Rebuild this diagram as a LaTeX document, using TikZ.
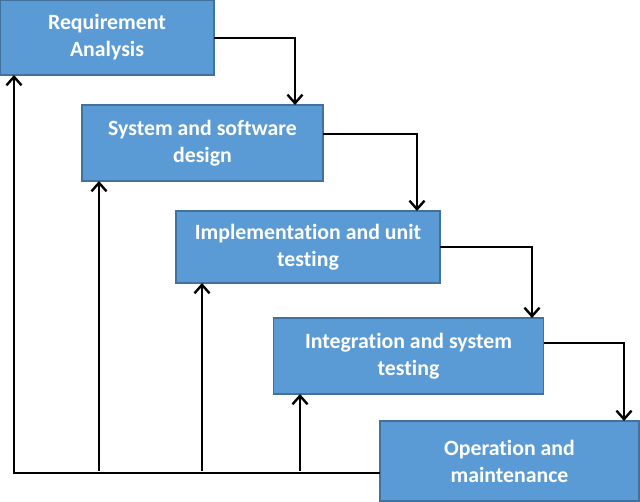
\documentclass[tikz,border=0pt]{standalone}
\usepackage{fontspec}
\setmainfont{Carlito}[Ligatures=NoCommon]
\usetikzlibrary{arrows.meta,positioning}

\definecolor{boxblue}{HTML}{5B9BD5}
\definecolor{boxedge}{HTML}{41719C}

\tikzset{
  phase/.style={draw=boxedge, line width=0.3mm, fill=boxblue, text=white,
    font=\bfseries\fontsize{12.4}{15.3}\selectfont, align=center,
    inner sep=0pt, outer sep=0pt},
  flow/.style={line width=0.48mm, -{Straight Barb[length=1.7mm,width=3mm]}}
}

\begin{document}
\begin{tikzpicture}[x=0.2mm,y=-0.2mm]
\useasboundingbox (0,0) rectangle (640,502);
\node[phase, minimum width=42.8mm, minimum height=15mm] (req) at (107,37.5) {Requirement\\Analysis};
\node[phase, minimum width=48.2mm, minimum height=15.2mm] (design) at (202.5,143) {System and software\\design};
\node[phase, minimum width=52.8mm, minimum height=14.4mm] (impl) at (308,247) {Implementation and unit\\testing};
\node[phase, minimum width=54mm, minimum height=15.2mm] (integ) at (408.5,356) {Integration and system\\testing};
\node[phase, minimum width=51.8mm, minimum height=16mm] (oper) at (509.5,461) {Operation and\\maintenance};
% forward steps
\coordinate (t1) at (295,38);
\coordinate (t2) at (417,134);
\coordinate (t3) at (532,247);
\coordinate (t4) at (624,343);
\draw[flow] (req.east |- t1) -| (t1 |- design.north);
\draw[flow] (design.east |- t2) -| (t2 |- impl.north);
\draw[flow] (impl.east |- t3) -| (t3 |- integ.north);
\draw[flow] (integ.east |- t4) -| (t4 |- oper.north);
% feedback
\coordinate (back) at (14,473);
\draw[flow] (oper.west |- back) -| (req.south -| back);
\foreach \x/\n in {99/design,202/impl,300/integ}{
  \coordinate (up) at (\x,471);
  \draw[flow] (up) -- (up |- \n.south);
}
\end{tikzpicture}
\end{document}
